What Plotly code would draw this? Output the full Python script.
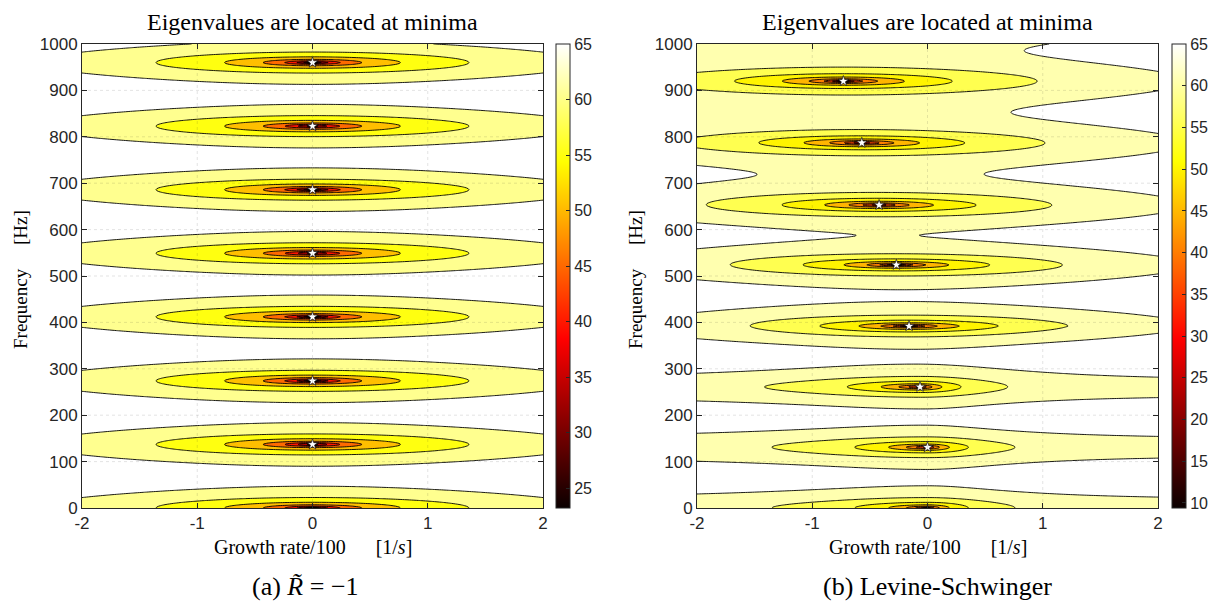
import numpy as np
import plotly.graph_objects as go

# ---------------- values ----------------
growth_ticks = [-2, -1, 0, 1, 2]
freq_ticks = [0, 100, 200, 300, 400, 500, 600, 700, 800, 900, 1000]

# (a) R~ = -1 : minima of the dB field (frequency in Hz, growth rate / 100)
a_mode_freq = [0, 137, 274, 412, 549, 686, 823, 960]
a_mode_growth = [0, 0, 0, 0, 0, 0, 0, 0]
a_mode_level = [66.1, 66.1, 66.1, 66.1, 66.1, 66.1, 66.1, 66.1]
a_mode_width = [0.365, 0.365, 0.365, 0.365, 0.365, 0.365, 0.365, 0.365]
a_mode_skew = [0, 0, 0, 0, 0, 0, 0, 0]
a_mode_sat = [0, 0, 0, 0, 0, 0, 0, 0]
a_star_freq = [137, 274, 412, 549, 686, 823, 960]
a_star_growth = [0, 0, 0, 0, 0, 0, 0]
a_contours = [25, 30, 35, 40, 45, 50, 55, 60, 65]
a_clim = [23.2, 65]
a_cbar_ticks = [25, 30, 35, 40, 45, 50, 55, 60, 65]

# (b) Levine-Schwinger
b_mode_freq = [0, 131, 261, 392, 524, 653, 787, 920]
b_mode_growth = [0.0, 0.0, -0.065, -0.16, -0.27, -0.42, -0.57, -0.73]
b_mode_level = [65.8, 65.8, 65.8, 65.5, 65.3, 64.6, 64.2, 63.6]
b_mode_width = [0.678, 0.678, 0.678, 0.385, 0.377, 0.393, 0.388, 0.393]
b_mode_skew = [0.28, 0.28, 0.28, 0, 0, 0, 0, 0]
b_mode_sat = [1.5, 1.5, 1.5, 0, 0, 0, 0, 0]
b_star_freq = [131, 261, 392, 524, 653, 787, 920]
b_star_growth = [0.0, -0.065, -0.16, -0.27, -0.42, -0.57, -0.73]
b_contours = [10, 15, 20, 25, 30, 35, 40, 45, 50, 55, 60, 65]
b_clim = [9.4, 65]
b_cbar_ticks = [10, 15, 20, 25, 30, 35, 40, 45, 50, 55, 60, 65]

title_text = "Eigenvalues are located at minima"
xlabel_text = "Growth rate/100\u2003\u2002[1/<i>s</i>]"
ylabel_text = "Frequency\u2003 [Hz]"
caption_a = "(a) <i>R\u0303</i> = \u22121"
caption_b = "(b) Levine-Schwinger"

# ---------------- helpers ----------------
def hot64():
    m = 64
    n = int(3 / 8 * m)
    r = np.concatenate([np.arange(1, n + 1) / n, np.ones(m - n)])
    g = np.concatenate([np.zeros(n), np.arange(1, n + 1) / n, np.ones(m - 2 * n)])
    b = np.concatenate([np.zeros(2 * n), np.arange(1, m - 2 * n + 1) / (m - 2 * n)])
    return np.stack([r, g, b], axis=1)

HOT = hot64()

def rgb(c):
    return "rgb(%d,%d,%d)" % tuple(int(round(v * 255)) for v in c)

def hot_at(v, clim):
    m = len(HOT)
    idx = int(np.floor((v - clim[0]) / (clim[1] - clim[0]) * m))
    idx = min(max(idx, 0), m - 1)
    return HOT[idx]

def band_colorscale(levels, clim):
    vals = [clim[0]] + list(levels)
    n = len(levels)
    return [[k / n, rgb(hot_at(v, clim))] for k, v in enumerate(vals)]

def bar_colorscale():
    m = len(HOT)
    return [[i / (m - 1), rgb(HOT[i])] for i in range(m)]

def mode_index(f, mode_freq):
    mf = np.asarray(mode_freq, float)
    idx = np.arange(len(mf), dtype=float)
    D = (mf[-1] - mf[0]) / (len(mf) - 1)
    k = np.interp(f, mf, idx)
    k = np.where(f > mf[-1], idx[-1] + (f - mf[-1]) / D, k)
    return k

def field(x, f, mode_freq, growth, level, width, skew, sat):
    X, F = np.meshgrid(x, f)
    xc = np.interp(f, mode_freq, growth)[:, None]
    C = np.interp(f, mode_freq, level)[:, None]
    a = np.interp(f, mode_freq, width)[:, None]
    g = np.interp(f, mode_freq, skew)[:, None]
    kap = np.interp(f, mode_freq, sat)[:, None]
    dx = X - xc
    A = a * dx * (1 + g * np.sign(dx))
    A2 = A ** 2
    A2 = A2 / (1 + kap * A2)
    S2 = np.sin(np.pi * mode_index(F, mode_freq)) ** 2
    G = np.maximum(A2 + S2, 1e-7)
    return C + 10 * np.log10(G)

xg = np.linspace(-2, 2, 201)
fg = np.linspace(0, 1000, 501)

za = field(xg, fg, a_mode_freq, a_mode_growth, a_mode_level, a_mode_width, a_mode_skew, a_mode_sat)
zb = field(xg, fg, b_mode_freq, b_mode_growth, b_mode_level, b_mode_width, b_mode_skew, b_mode_sat)

# ---------------- figure ----------------
W, H = 1220, 606
axc = "#262626"
sans = "Liberation Sans"
serif = "Liberation Serif"

panels = [
    dict(z=za, levels=a_contours, clim=a_clim, ticks=a_cbar_ticks, sf=a_star_freq, sg=a_star_growth,
         x0=82, x1=543, cb=556, cap=caption_a, capx=305, xa="x", ya="y"),
    dict(z=zb, levels=b_contours, clim=b_clim, ticks=b_cbar_ticks, sf=b_star_freq, sg=b_star_growth,
         x0=697, x1=1158, cb=1172, cap=caption_b, capx=937, xa="x2", ya="y2"),
]
top, bot = 44, 508

fig = go.Figure()
shapes = []
annotations = []
for i, p in enumerate(panels):
    lv = p["levels"]
    fig.add_trace(go.Contour(
        x=xg, y=fg, z=p["z"], xaxis=p["xa"], yaxis=p["ya"],
        autocontour=False,
        contours=dict(start=lv[0], end=lv[-1], size=lv[1] - lv[0], coloring="fill", showlines=True),
        colorscale=band_colorscale(lv, p["clim"]),
        line=dict(color="black", width=0.9, smoothing=1),
        showscale=False, hoverinfo="skip",
    ))
    fig.add_trace(go.Scatter(
        x=p["sg"], y=p["sf"], xaxis=p["xa"], yaxis=p["ya"], mode="markers",
        marker=dict(symbol="star", size=8, color="white", line=dict(color="black", width=0.6)),
        hoverinfo="skip", showlegend=False,
    ))
    fig.add_trace(go.Scatter(
        x=[-10], y=[-100], xaxis=p["xa"], yaxis=p["ya"], mode="markers",
        marker=dict(color=[p["clim"][0]], colorscale=bar_colorscale(), cmin=p["clim"][0], cmax=p["clim"][1],
                    showscale=True,
                    colorbar=dict(x=p["cb"] / W, xanchor="left", xpad=0, ypad=0,
                                  y=1 - (top + bot) / 2 / H, yanchor="middle",
                                  len=bot - top, lenmode="pixels", thickness=14, thicknessmode="pixels",
                                  outlinecolor=axc, outlinewidth=1,
                                  tickvals=p["ticks"], ticks="inside", ticklen=4, tickcolor=axc,
                                  tickfont=dict(family=sans, size=16, color=axc))),
        hoverinfo="skip", showlegend=False,
    ))
    xs = "xaxis" if i == 0 else "xaxis2"
    ys = "yaxis" if i == 0 else "yaxis2"
    fig.update_layout({
        xs: dict(domain=[p["x0"] / W, p["x1"] / W], range=[-2, 2], tickvals=growth_ticks,
                 ticktext=[str(t) for t in growth_ticks],
                 showgrid=False, zeroline=False, showline=True, linecolor=axc, linewidth=1, mirror="ticks",
                 ticks="inside", ticklen=5, tickcolor=axc, tickfont=dict(family=sans, size=17, color=axc),
                 anchor=p["ya"], layer="above traces"),
        ys: dict(domain=[1 - bot / H, 1 - top / H], range=[0, 1000], tickvals=freq_ticks,
                 showgrid=False, zeroline=False, showline=True, linecolor=axc, linewidth=1, mirror="ticks",
                 ticks="inside", ticklen=5, tickcolor=axc, tickfont=dict(family=sans, size=17, color=axc),
                 anchor=p["xa"], layer="above traces"),
    })
    for t in growth_ticks[1:-1]:
        shapes.append(dict(type="line", xref=p["xa"], yref=p["ya"] + " domain", x0=t, x1=t, y0=0, y1=1,
                           line=dict(color="rgba(38,38,38,0.16)", width=0.8, dash="dot"), layer="above"))
    for t in freq_ticks[1:-1]:
        shapes.append(dict(type="line", xref=p["xa"] + " domain", yref=p["ya"], x0=0, x1=1, y0=t, y1=t,
                           line=dict(color="rgba(38,38,38,0.16)", width=0.8, dash="dot"), layer="above"))
    cx = (p["x0"] + p["x1"]) / 2 / W
    annotations += [
        dict(text=title_text, x=cx, y=1 - 22 / H, xref="paper", yref="paper", showarrow=False,
             font=dict(family=serif, size=24, color="black"), xanchor="center", yanchor="middle"),
        dict(text=xlabel_text, x=cx, y=1 - 547 / H, xref="paper", yref="paper", showarrow=False,
             font=dict(family=serif, size=20, color="black"), xanchor="center", yanchor="middle"),
        dict(text=ylabel_text, x=(p["x0"] - 62) / W, y=1 - 280 / H, xref="paper", yref="paper", showarrow=False,
             textangle=-90, font=dict(family=serif, size=19, color="black"), xanchor="center", yanchor="middle"),
        dict(text=p["cap"], x=p["capx"] / W, y=1 - 586 / H, xref="paper", yref="paper",
             showarrow=False, font=dict(family=serif, size=26, color="black"), xanchor="center", yanchor="middle"),
    ]

fig.update_layout(width=W, height=H, autosize=False,
                  margin=dict(l=0, r=0, t=0, b=0, autoexpand=False),
                  paper_bgcolor="white", plot_bgcolor="white", showlegend=False,
                  shapes=shapes, annotations=annotations)

fig.write_html("out.html")
